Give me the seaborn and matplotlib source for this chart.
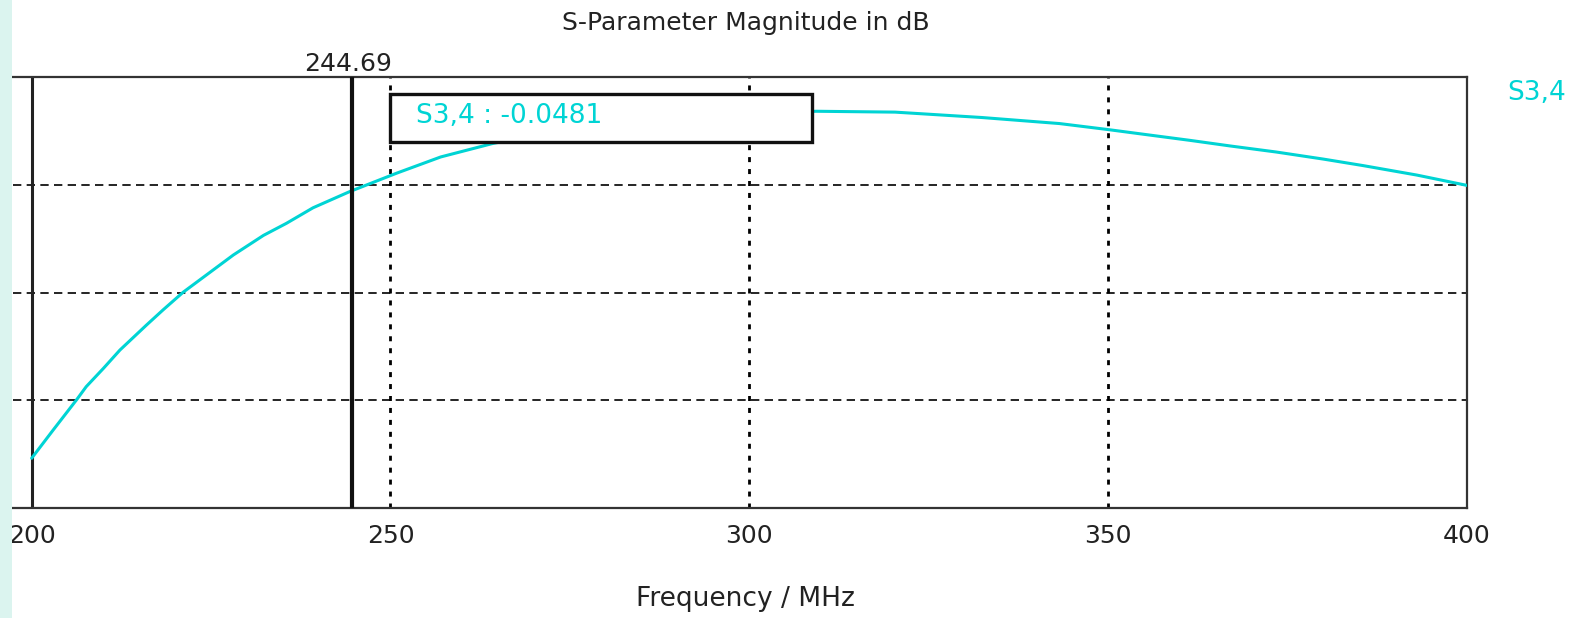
import matplotlib
matplotlib.use('Agg')
import matplotlib.pyplot as plt
import matplotlib.transforms as mtransforms
from matplotlib.patches import Rectangle
import seaborn as sns
import pandas as pd

# Données (S3,4 en dB)
freq_mhz = [200, 203, 206.3, 207.6, 210, 212.3, 216, 218.3, 221.1, 228.1, 232.3,
            235.5, 239.2, 244.3, 250.8, 257, 264.3, 272, 280, 290, 300, 309.4,
            320.3, 332.4, 343.2, 350, 355, 361.4, 367, 373.4, 380, 385.5, 393, 400]
s34_db = [-0.1719, -0.1588, -0.1446, -0.1387, -0.1302, -0.1217, -0.1101, -0.1031,
          -0.0949, -0.0776, -0.0685, -0.0629, -0.0557, -0.0482, -0.0397, -0.0321,
          -0.0258, -0.0210, -0.0170, -0.0136, -0.0115, -0.0109, -0.0113, -0.0138,
          -0.0166, -0.0194, -0.0216, -0.0244, -0.0270, -0.0298, -0.0331, -0.0361,
          -0.0405, -0.0453]
x_ticks = [200, 250, 300, 350, 400]
y_grid = [-0.145, -0.095, -0.045]
marker_freq = 244.69
marker_label = 'S3,4 : -0.0481'
series_name = 'S3,4'

CYAN = '#00d4d4'
W, H = 1585, 618

sns.set_style('white')
plt.rcParams['font.family'] = ['DejaVu Sans']

df = pd.DataFrame({'freq': freq_mhz, 'db': s34_db})

fig = plt.figure(figsize=(W / 100, H / 100), dpi=100)
ax = fig.add_axes([13 / W, 1 - 508 / H, (1467 - 13) / W, (508 - 77) / H])

sns.lineplot(data=df, x='freq', y='db', ax=ax, color=CYAN, linewidth=2.2, zorder=3)

ax.set_xlim(197.4, 400)
ax.set_ylim(-0.195, 0.005)
ax.set_xticks(x_ticks)
ax.set_xticklabels([str(t) for t in x_ticks])
ax.set_yticks(y_grid)
ax.set_yticklabels([])
ax.set_xlabel('')
ax.set_ylabel('')

# grilles
ax.yaxis.grid(True, linestyle=(0, (5, 3.2)), color='black', linewidth=1.2)
ax.xaxis.grid(True, linestyle=(0, (1.8, 2.5)), color='black', linewidth=2.0)
ax.set_axisbelow(True)

for side in ['top', 'bottom', 'right']:
    ax.spines[side].set_color('#333333')
    ax.spines[side].set_linewidth(1.6)
ax.spines['left'].set_visible(False)

ax.tick_params(axis='x', direction='out', length=8.6, width=1.5, color='#333333',
               labelsize=18, pad=3, labelcolor='#222222')
ax.tick_params(axis='y', length=0)

# axe en 200 MHz
ax.axvline(200, color='#222222', linewidth=2.2, zorder=2)

# marqueur
ax.axvline(marker_freq, color='#111111', linewidth=3.0, zorder=4)
ax.annotate(f'{marker_freq:.2f}', xy=(marker_freq, 1),
            xycoords=('data', 'axes fraction'), xytext=(-3, 4.3),
            textcoords='offset points', ha='center', va='baseline',
            fontsize=18, color='#222222', annotation_clip=False)

# boîte de valeur
trans = mtransforms.blended_transform_factory(ax.transData, ax.transAxes)
box = Rectangle((250, 1 - (141.5 - 77) / 431), 58.8, (141.5 - 93.5) / 431,
                transform=trans, facecolor='white', edgecolor='#111111',
                linewidth=2.4, zorder=5)
ax.add_patch(box)
ax.text(253.5, 1 - (116.5 - 77) / 431, marker_label, transform=trans,
        ha='left', va='center', fontsize=19, color=CYAN, zorder=6)

# textes de la figure
fig.text(746 / W, 1 - 30 / H, 'S-Parameter Magnitude in dB', ha='center',
         va='baseline', fontsize=18, color='#222222')
fig.text(745 / W, 1 - 606 / H, 'Frequency / MHz', ha='center', va='baseline',
         fontsize=19, color='#222222')
fig.text(1537 / W, 1 - 100 / H, series_name, ha='center', va='baseline',
         fontsize=19, color=CYAN)

# bande claire à gauche
fig.patches.append(Rectangle((0, 0), 12 / W, 1, transform=fig.transFigure,
                             facecolor='#dbf4ef', edgecolor='none', zorder=10))

fig.savefig('out.png', dpi=100)
